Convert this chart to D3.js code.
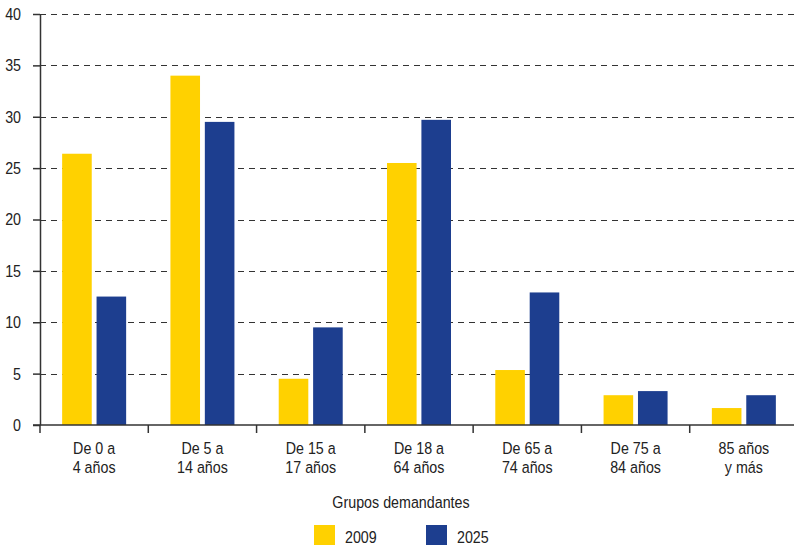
<!DOCTYPE html>
<html>
<head>
<meta charset="utf-8">
<script src="https://cdn.jsdelivr.net/npm/d3@7"></script>
<style>
  html, body { margin: 0; padding: 0; background: #fff; }
  svg { display: block; }
  text { font-family: "Liberation Sans", Arial, sans-serif; fill: #222; }
</style>
</head>
<body>
<svg id="chart" width="794" height="548"></svg>
<script>
// Grupos de edad (dos líneas por etiqueta)
const categories = [
  ["De 0 a", "4 años"],
  ["De 5 a", "14 años"],
  ["De 15 a", "17 años"],
  ["De 18 a", "64 años"],
  ["De 65 a", "74 años"],
  ["De 75 a", "84 años"],
  ["85 años", "y más"]
];
const seriesNames = ["2009", "2025"];
const values2009 = [26.4, 34.0, 4.5, 25.5, 5.35, 2.9, 1.65];
const values2025 = [12.5, 29.5, 9.5, 29.7, 12.9, 3.3, 2.9];
const yTicks = [0, 5, 10, 15, 20, 25, 30, 35, 40];
const colors = ["#FFD100", "#1D3E8F"];
const xTitle = "Grupos demandantes";

const svg = d3.select("#chart");
const plotLeft = 40, plotRight = 798, plotTop = 14, plotBottom = 425;
const narrow = 0.84; // condensación horizontal del texto

// Estrecha un texto alrededor de su punto de anclaje
const condense = (sel, ax) =>
  sel.attr("transform", `translate(${ax},0) scale(${narrow},1) translate(${-ax},0)`);

const keys = categories.map(c => c.join(" "));
const x = d3.scaleBand().domain(keys).range([plotLeft, plotRight]).padding(0);
const y = d3.scaleLinear().domain([0, 40]).range([plotBottom, plotTop]);
const x1 = d3.scaleBand().domain(seriesNames).range([0, 64]).paddingInner(0.14);

// Líneas de referencia discontinuas
svg.append("g")
  .selectAll("line")
  .data(yTicks.filter(t => t > 0))
  .join("line")
  .attr("x1", plotLeft).attr("x2", 794)
  .attr("y1", d => Math.round(y(d)) + 0.5).attr("y2", d => Math.round(y(d)) + 0.5)
  .attr("stroke", "#333").attr("stroke-width", 1)
  .attr("stroke-dasharray", "6,5");

// Barras
const data = keys.map((k, i) => ({ key: k, vals: [values2009[i], values2025[i]] }));
const groups = svg.append("g").selectAll("g")
  .data(data).join("g")
  .attr("transform", d => `translate(${x(d.key) + x.bandwidth() / 2 - 32},0)`);
groups.selectAll("rect")
  .data(d => d.vals.map((v, j) => ({ s: seriesNames[j], v, j })))
  .join("rect")
  .attr("x", d => x1(d.s))
  .attr("width", x1.bandwidth())
  .attr("y", d => y(d.v))
  .attr("height", d => y(0) - y(d.v))
  .attr("fill", d => colors[d.j]);

// Eje Y
const yAxis = d3.axisLeft(y).tickValues(yTicks).tickSize(7).tickPadding(12).tickSizeOuter(0);
const gy = svg.append("g").attr("transform", `translate(${plotLeft},0)`).call(yAxis);
gy.select(".domain").attr("stroke", "#333").attr("stroke-width", 1.5);
gy.selectAll(".tick line").attr("stroke", "#333").attr("stroke-width", 1.5);
gy.selectAll(".tick text")
  .style("font-size", "17px").attr("fill", "#222")
  .attr("font-family", null)
  .call(condense, -19);

// Eje X
const xTickPos = keys.map(k => x(k)).concat([plotRight]);
const gx = svg.append("g");
gx.append("line")
  .attr("x1", 33).attr("x2", 794)
  .attr("y1", plotBottom).attr("y2", plotBottom)
  .attr("stroke", "#333").attr("stroke-width", 1.5);
gx.selectAll("line.tk")
  .data(xTickPos).join("line").attr("class", "tk")
  .attr("x1", d => d).attr("x2", d => d)
  .attr("y1", plotBottom).attr("y2", plotBottom + 8)
  .attr("stroke", "#333").attr("stroke-width", 1.5);
const labels = gx.selectAll("text.cat")
  .data(categories).join("text").attr("class", "cat")
  .attr("text-anchor", "middle")
  .attr("transform", (d, i) => `translate(${x(keys[i]) + x.bandwidth() / 2},0) scale(${narrow},1)`)
  .style("font-size", "17px");
labels.selectAll("tspan")
  .data(d => d).join("tspan")
  .attr("x", 0)
  .attr("y", (d, i) => 454 + i * 19)
  .text(d => d);

// Título del eje X
svg.append("text")
  .attr("x", 401).attr("y", 508)
  .attr("text-anchor", "middle")
  .style("font-size", "17px")
  .text(xTitle)
  .call(condense, 401);

// Leyenda
const legendX = [314, 426];
const leg = svg.append("g").selectAll("g")
  .data(seriesNames).join("g")
  .attr("transform", (d, i) => `translate(${legendX[i]},525)`);
leg.append("rect").attr("width", 21).attr("height", 20).attr("fill", (d, i) => colors[i]);
leg.append("text").attr("x", 31).attr("y", 18).style("font-size", "17px").text(d => d)
  .call(condense, 31);
</script>
</body>
</html>
